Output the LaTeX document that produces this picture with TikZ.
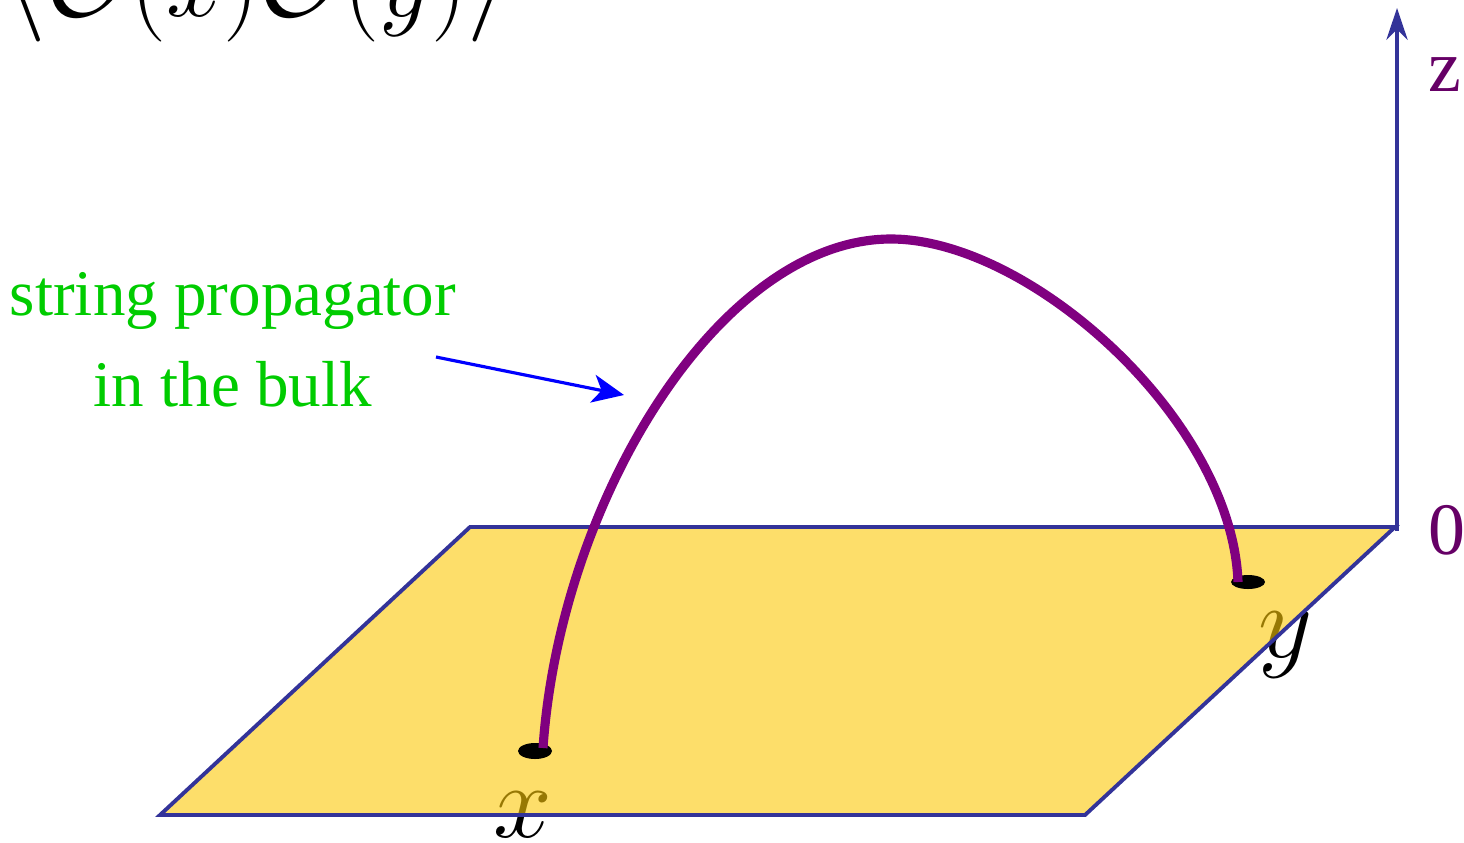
\documentclass[tikz,border=0pt]{standalone}
\usepackage{fix-cm}
\usepackage{fontspec}
\setmainfont{LiberationSerif-Regular.ttf}
\newfontfamily\timesfont{LiberationSerif-Regular.ttf}
\usetikzlibrary{arrows.meta}

\definecolor{planeblue}{RGB}{51,51,153}
\definecolor{planefill}{RGB}{252,200,7}
\definecolor{arcpurple}{RGB}{128,0,128}
\definecolor{axispurple}{RGB}{102,0,102}
\definecolor{labelgreen}{RGB}{0,204,0}

\begin{document}
\begin{tikzpicture}[x=0.01cm, y=-0.01cm,
    edge/.style={draw=planeblue, line width=1.1pt},
    zaxis/.style={-{Stealth[length=9pt, width=6pt]}, draw=planeblue, line width=1.2pt},
    prop/.style={draw=arcpurple, line width=2.6pt},
    pointer/.style={-{Stealth[length=9pt, width=8pt, inset=2.5pt]}, draw=blue, fill=blue, line width=0.9pt},
    axislabel/.style={text=axispurple, inner sep=0pt, font=\timesfont\fontsize{21}{24}\selectfont},
    ptlabel/.style={inner sep=0pt, anchor=base, font=\fontsize{30}{32}\selectfont}
]
\useasboundingbox (0,0) rectangle (1464,842);

\node[anchor=base west, inner sep=0pt, font=\fontsize{29}{32}\selectfont] (corr) at (6,16)
    {$\langle\mathcal{O}(x)\mathcal{O}(y)\rangle$};

% labels of the two boundary points, seen through the plane
\node[ptlabel] (xlabel) at (523,837) {$x$};
\node[ptlabel] (ylabel) at (1286,657) {$y$};

% boundary plane
\fill[planefill, opacity=0.6] (160,815) -- (1085,815) -- (1395,527) -- (470,527) -- cycle;
\draw[edge] (160,815) -- (1085,815) -- (1395,527) -- (470,527) -- cycle;

\coordinate (origin) at (1397,531);
\coordinate (ztop) at (1397,8);
\draw[zaxis] (origin) -- (ztop);
\node[axislabel] (zlabel) at (1445,75) {z};
\node[axislabel] (zero) at (1447,530) {0};

\fill (535,751) ellipse [x radius=17, y radius=8];
\fill (1248,582) ellipse [x radius=17, y radius=7];

\coordinate (xend) at (543,748);
\coordinate (apex) at (891,239);
\coordinate (yend) at (1238,582);
\draw[prop] (xend) .. controls (560,500) and (720,239) .. (apex)
    .. controls (1030,239) and (1232,420) .. (yend);

\node[align=center, text=labelgreen, font=\timesfont\fontsize{18.5}{26}\selectfont] (bulk) at (233,340)
    {string propagator\\in the bulk};
\coordinate (tail) at (436,357);
\coordinate (tip) at (624,395);
\draw[pointer] (tail) -- (tip);
\end{tikzpicture}
\end{document}
